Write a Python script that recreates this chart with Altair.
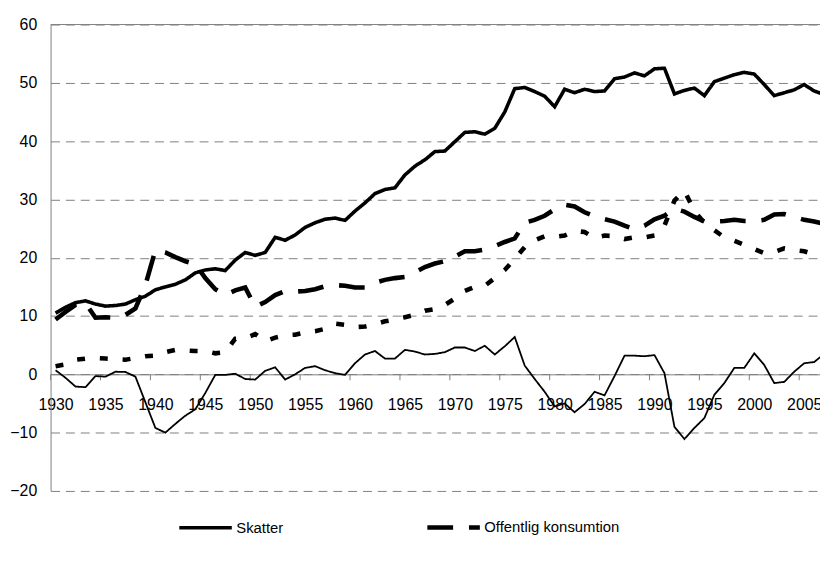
import altair as alt
import pandas as pd

years = list(range(1930, 2008))

names = ["Skatter", "Offentlig konsumtion", "Transfereringar", "Finansiellt sparande"]

skatter = [10.5, 11.5, 12.3, 12.6, 12.05, 11.7, 11.8, 12.05, 12.8, 13.4,
           14.5, 15.0, 15.45, 16.2, 17.4, 17.9, 18.1, 17.8, 19.6, 20.9,
           20.4, 20.9, 23.5, 23.0, 23.9, 25.2, 26.0, 26.6, 26.8, 26.4,
           28.0, 29.4, 31.0, 31.7, 32.0, 34.2, 35.7, 36.8, 38.2, 38.3,
           39.9, 41.5, 41.6, 41.2, 42.2, 45.0, 49.0, 49.2, 48.5, 47.7,
           45.9, 48.9, 48.3, 48.9, 48.5, 48.6, 50.7, 51.0, 51.7, 51.2,
           52.4, 52.5, 48.1, 48.7, 49.1, 47.8, 50.2, 50.8, 51.4, 51.8,
           51.5, 49.7, 47.8, 48.3, 48.8, 49.7, 48.6, 48.0]

offentlig = [9.4, 10.7, 11.9, 12.2, 9.7, 9.8, 9.7, 10.2, 11.3, 15.3,
             21.3, 20.9, 20.1, 19.4, 18.9, 16.5, 14.6, 13.6, 14.4, 14.9,
             11.6, 12.4, 13.6, 14.3, 14.2, 14.3, 14.6, 15.1, 15.3, 15.2,
             14.9, 14.9, 15.7, 16.2, 16.5, 16.7, 17.5, 18.4, 19.0, 19.4,
             20.2, 21.1, 21.1, 21.4, 22.0, 22.7, 23.3, 26.0, 26.5, 27.2,
             28.3, 29.1, 28.8, 27.8, 27.1, 26.6, 26.2, 25.5, 24.9, 25.5,
             26.6, 27.2, 28.4, 27.9, 27.0, 26.2, 26.2, 26.3, 26.5, 26.3,
             26.3, 26.5, 27.4, 27.5, 27.0, 26.5, 26.2, 25.8]

transfer = [1.4, 1.7, 2.5, 2.7, 2.8, 2.7, 2.6, 2.5, 2.8, 3.1,
            3.2, 3.8, 4.2, 4.1, 4.0, 4.0, 3.6, 3.8, 6.1, 6.2,
            6.9, 5.7, 6.3, 6.7, 6.8, 7.2, 7.4, 7.8, 8.7, 8.5,
            8.1, 8.2, 8.6, 9.1, 9.4, 9.8, 10.2, 10.9, 11.2, 11.9,
            13.0, 14.3, 15.0, 15.2, 16.5, 17.9, 19.8, 21.8, 23.0, 23.7,
            23.6, 23.8, 24.6, 24.4, 23.4, 23.8, 23.7, 23.2, 23.5, 23.5,
            23.8, 25.5, 29.8, 31.5, 28.0, 26.0, 24.7, 23.5, 22.9, 22.2,
            21.5, 20.8, 21.0, 21.6, 21.3, 21.1, 20.6, 20.3]

finansiellt = [0.7, -0.6, -2.1, -2.2, -0.3, -0.4, 0.45, 0.4, -0.4, -4.8,
               -9.2, -10.0, -8.5, -7.1, -6.0, -3.2, -0.1, -0.1, 0.1, -0.8,
               -0.9, 0.6, 1.2, -0.9, 0.0, 1.1, 1.4, 0.7, 0.2, -0.1,
               1.9, 3.4, 4.0, 2.7, 2.7, 4.2, 3.9, 3.4, 3.5, 3.8,
               4.6, 4.6, 4.0, 4.9, 3.4, 4.8, 6.4, 1.5, -0.8, -3.0,
               -5.5, -5.0, -6.5, -5.1, -3.0, -3.6, -0.3, 3.2, 3.2, 3.1,
               3.3, 0.2, -9.0, -11.1, -9.2, -7.5, -3.5, -1.5, 1.1, 1.1,
               3.6, 1.6, -1.5, -1.3, 0.45, 1.9, 2.1, 3.5]

y_ticks = [-20, -10, 0, 10, 20, 30, 40, 50, 60]
x_label_years = [1930, 1935, 1940, 1945, 1950, 1955, 1960, 1965, 1970,
                 1975, 1980, 1985, 1990, 1995, 2000, 2005]
x_tick_marks = [1929.5, 1934.5, 1939.5, 1944.5, 1949.5, 1954.5, 1959.5, 1964.5,
                1969.5, 1974.5, 1979.5, 1984.5, 1989.5, 1994.5, 1999.5, 2004.5]

dashes = [[1, 0], [26, 16], [8, 15], [1, 0]]
widths = [3.6, 4.6, 4.6, 1.8]

rows = []
for name, vals in zip(names, [skatter, offentlig, transfer, finansiellt]):
    for yr, v in zip(years, vals):
        rows.append({"year": yr, "value": v, "series": name})
df = pd.DataFrame(rows)

FONT = "Liberation Sans"
PLOT_W = 777
PLOT_H = 471
x0 = 1929.5
x1 = x0 + PLOT_W / 10.08

xscale = alt.Scale(domain=[x0, x1], nice=False, zero=False)
yscale = alt.Scale(domain=[-20, 60], nice=False, zero=False)
dash_scale = alt.Scale(domain=names, range=dashes)

x_enc = alt.X("year:Q", scale=xscale,
              axis=alt.Axis(values=x_label_years, format="d",
                            title=None, grid=False, offset=-PLOT_H * 20 / 80,
                            domainColor="#808080", ticks=False, tickSize=0,
                            labelPadding=23,
                            labelFontSize=16, labelColor="black", labelFont=FONT,
                            labelFlush=False, labelOverlap=False))
y_enc = alt.Y("value:Q", scale=yscale,
              axis=alt.Axis(values=y_ticks, title=None, grid=True,
                            gridDash=[9, 6], gridColor="#808080", gridWidth=1,
                            domainColor="#808080", ticks=False, tickSize=0,
                            labelPadding=14, labelFontSize=16, labelColor="black",
                            labelFont=FONT))

series_layers = []
for name, w in zip(names, widths):
    series_layers.append(
        alt.Chart(df).transform_filter(alt.datum.series == name)
        .mark_line(color="black", clip=True, strokeWidth=w)
        .encode(
            x=x_enc, y=y_enc,
            strokeDash=alt.StrokeDash("series:N", scale=dash_scale,
                                      legend=alt.Legend(title=None)),
        )
    )

# empty layer that only feeds the legend (per-series symbol widths)
legend_layer = alt.Chart(df).transform_filter("false").mark_line(color="black").encode(
    x=alt.X("year:Q", scale=xscale),
    y=alt.Y("value:Q", scale=yscale),
    strokeDash=alt.StrokeDash("series:N", scale=dash_scale,
                              legend=alt.Legend(title=None)),
    strokeWidth=alt.StrokeWidth("series:N",
                                scale=alt.Scale(type="ordinal", domain=names, range=widths),
                                legend=alt.Legend(title=None)),
)

ticks = alt.Chart(pd.DataFrame({"t": x_tick_marks})).mark_rule(
    color="#808080", strokeWidth=1
).encode(
    x=alt.X("t:Q", scale=xscale),
    y=alt.datum(0),
    y2=alt.datum(-1.02),
)

top = alt.Chart(pd.DataFrame({"v": [60]})).mark_rule(color="#808080", strokeWidth=1).encode(
    y=alt.Y("v:Q", scale=yscale)
)

chart = alt.layer(ticks, top, *series_layers, legend_layer).properties(
    width=PLOT_W, height=PLOT_H,
    autosize=alt.AutoSizeParams(type="none"),
    padding={"left": 43, "top": 14, "right": 0, "bottom": 60},
).configure_view(stroke=None).configure_legend(
    orient="none", legendX=127.5, legendY=478.5, direction="horizontal",
    columns=2, columnPadding=81.5, rowPadding=-30, padding=0,
    symbolType="stroke", symbolSize=2809, symbolOffset=0,
    symbolStrokeColor="black",
    labelFont=FONT, labelFontSize=15, labelColor="black", labelOffset=2,
    labelLimit=400, gridAlign="each",
)

chart.save("out.html", embed_options={"renderer": "svg", "actions": False})
